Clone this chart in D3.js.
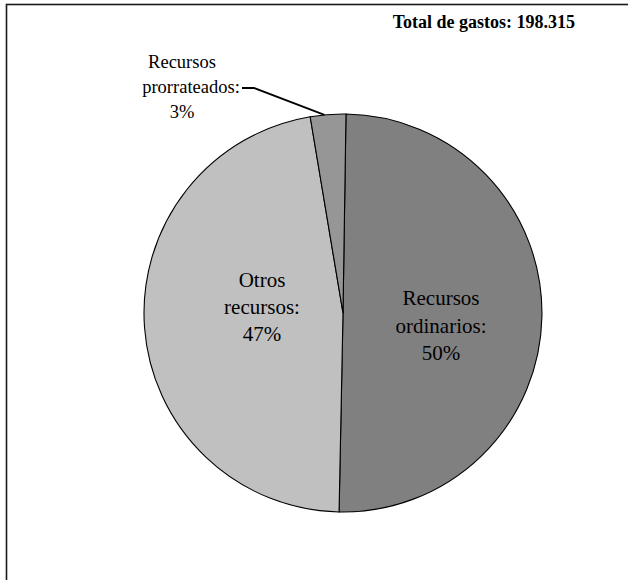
<!DOCTYPE html>
<html>
<head>
<meta charset="utf-8">
<script src="https://cdn.jsdelivr.net/npm/d3@7"></script>
<style>
  html, body { margin: 0; padding: 0; background: #fff; }
  svg { display: block; }
</style>
</head>
<body>
<svg id="chart" width="628" height="580"></svg>
<script>
// ---- data ----
const categories = ["Recursos ordinarios", "Otros recursos", "Recursos prorrateados"];
const values = [99.3, 93.3, 5.7];
const labelLines = [["Recursos", "ordinarios:"], ["Otros", "recursos:"], ["Recursos", "prorrateados:"]];
const totalLabel = "Total de gastos: 198.315";
const colors = ["#808080", "#c0c0c0", "#969696"];

// ---- layout ----
const FONT = "'Liberation Serif', 'Times New Roman', 'DejaVu Serif', serif";
const W = 628, H = 580;
const cx = 343, cy = 313, R = 199;
const startAngle = 0.015;
const labelLayout = [
  { x: 441, y: 305, size: 21, lh: 27.5, dx: [0, 0, 0] },
  { x: 262, y: 287, size: 21, lh: 27, dx: [0, 0, 0] },
  { x: 182, y: 68, size: 18.5, lh: 25, dx: [0, 9, 0] }
];

const svg = d3.select("#chart");

// frame
svg.append("rect")
  .attr("x", 6.5).attr("y", 4.5)
  .attr("width", W + 20).attr("height", H + 20)
  .attr("fill", "none").attr("stroke", "#1a1a1a").attr("stroke-width", 1.6);

const total = d3.sum(values);
const pie = d3.pie().sort(null).value(d => d)
  .startAngle(startAngle).endAngle(startAngle + 2 * Math.PI);
const arcs = pie(values);
const arc = d3.arc().innerRadius(0).outerRadius(R);

const g = svg.append("g").attr("transform", `translate(${cx},${cy})`);
g.selectAll("path").data(arcs).enter().append("path")
  .attr("d", arc)
  .attr("fill", (d, i) => colors[i])
  .attr("stroke", "#000")
  .attr("stroke-width", 1.1)
  .attr("stroke-linejoin", "round");

// labels
arcs.forEach((d, i) => {
  const L = labelLayout[i];
  const pct = Math.round(d.value / total * 100) + "%";
  const lines = labelLines[i].concat([pct]);
  const t = svg.append("text")
    .attr("text-anchor", "middle")
    .style("font-family", FONT)
    .style("font-size", L.size + "px")
    .attr("fill", "#000");
  lines.forEach((ln, k) => {
    t.append("tspan").attr("x", L.x + L.dx[k]).attr("y", L.y + k * L.lh)
      .style("font-family", FONT).text(ln);
  });
});

// leader line for small slice
const small = arcs[2];
const edgeAngle = small.startAngle + (small.endAngle - small.startAngle) * 0.4;
const edge = [cx + Math.sin(edgeAngle) * R, cy - Math.cos(edgeAngle) * R];
svg.append("path")
  .attr("d", d3.line()([[242, 88], [254, 88], edge]))
  .attr("fill", "none").attr("stroke", "#000").attr("stroke-width", 1.8);

// total label
svg.append("text")
  .attr("x", 575).attr("y", 28)
  .attr("text-anchor", "end")
  .style("font-family", FONT)
  .style("font-size", "18px")
  .style("font-weight", "bold")
  .attr("fill", "#000")
  .text(totalLabel);
</script>
</body>
</html>
